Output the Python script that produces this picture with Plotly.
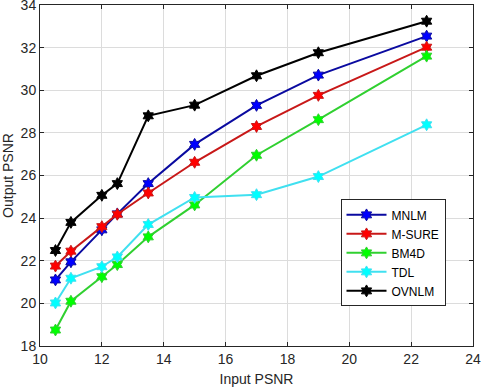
import plotly.graph_objects as go

input_psnr = [10.5, 11, 12, 12.5, 13.5, 15, 17, 19, 22.5]

mnlm = [21.1, 21.95, 23.45, 24.2, 25.62, 27.46, 29.29, 30.71, 32.54]
m_sure = [21.75, 22.45, 23.6, 24.18, 25.18, 26.62, 28.3, 29.76, 32.02]
bm4d = [18.75, 20.1, 21.25, 21.82, 23.12, 24.62, 26.95, 28.62, 31.6]
tdl = [20.02, 21.18, 21.72, 22.18, 23.7, 24.97, 25.1, 25.95, 28.38]
ovnlm = [22.48, 23.8, 25.07, 25.62, 28.8, 29.3, 30.68, 31.76, 33.24]

series = [
    ("MNLM", mnlm, "#0A0AA0", "#0000FF"),
    ("M-SURE", m_sure, "#C81818", "#FF0000"),
    ("BM4D", bm4d, "#30D030", "#00FF00"),
    ("TDL", tdl, "#40E0F0", "#00FFFF"),
    ("OVNLM", ovnlm, "#000000", "#000000"),
]

FONT = "Liberation Sans, Arial"

fig = go.Figure()
for name, values, line_color, marker_color in series:
    fig.add_trace(
        go.Scatter(
            x=input_psnr,
            y=values,
            name=name,
            mode="lines+markers",
            line={"color": line_color, "width": 2},
            marker={"symbol": "hexagram", "size": 9, "color": marker_color,
                    "line": {"color": line_color, "width": 1}},
        )
    )

axis_style = dict(
    showgrid=True,
    gridcolor="#DCDCDC",
    gridwidth=1,
    showline=True,
    linecolor="#262626",
    linewidth=1,
    mirror="ticks",
    ticks="inside",
    ticklen=4,
    tickcolor="#262626",
    zeroline=False,
    automargin=False,
    ticklabeloverflow="allow",
    tickfont={"family": FONT, "size": 14, "color": "#262626"},
)

fig.update_xaxes(
    range=[10, 24], dtick=2, title={"text": "Input PSNR", "standoff": 8,
    "font": {"family": FONT, "size": 14, "color": "#262626"}},
    **axis_style,
)
fig.update_yaxes(
    range=[18, 34], dtick=2, title={"text": "Output PSNR", "standoff": 6,
    "font": {"family": FONT, "size": 14, "color": "#262626"}},
    **axis_style,
)

fig.update_layout(
    width=481,
    height=390,
    margin={"l": 40, "r": 8, "t": 5, "b": 44},
    plot_bgcolor="white",
    paper_bgcolor="white",
    legend={
        "x": 0.694, "y": 0.43, "xanchor": "left", "yanchor": "top",
        "bgcolor": "white", "bordercolor": "#262626", "borderwidth": 1,
        "font": {"family": FONT, "size": 12, "color": "#000000"},
        "tracegroupgap": 0, "itemwidth": 40,
    },
)

# the page body has a default 8px margin; drop it so the figure sits at 0,0
fig.write_html(
    "out.html",
    config={"displayModeBar": False},
    post_script="document.body.style.margin='0';",
)
